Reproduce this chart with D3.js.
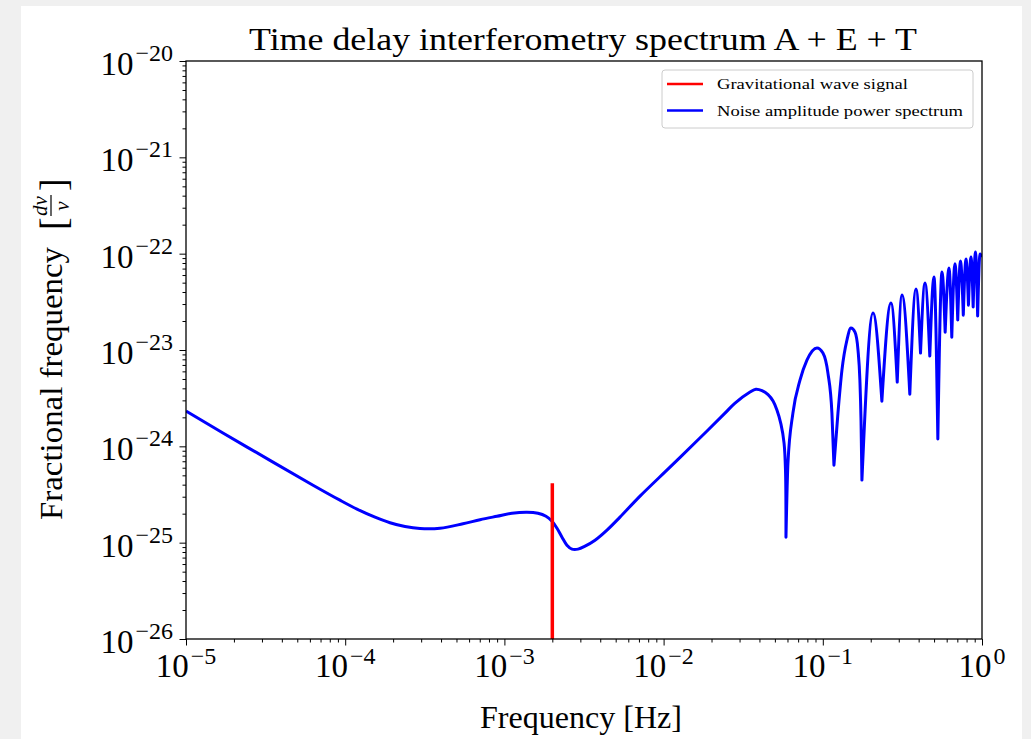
<!DOCTYPE html>
<html>
<head>
<meta charset="utf-8">
<script src="https://cdn.jsdelivr.net/npm/d3@7"></script>
<style>
html, body { margin: 0; padding: 0; background: #f0f0f0; }
svg { display: block; }
text { font-family: 'Liberation Serif', 'DejaVu Serif', serif; fill: #000; }
</style>
</head>
<body>
<script>
// DATA

var xTickValues = [1e-5, 1e-4, 1e-3, 1e-2, 1e-1, 1e0];
var xTickExponents = ['\u22125', '\u22124', '\u22123', '\u22122', '\u22121', '0'];
var yTickValues = [1e-26, 1e-25, 1e-24, 1e-23, 1e-22, 1e-21, 1e-20];
var yTickExponents = ['\u221226', '\u221225', '\u221224', '\u221223', '\u221222', '\u221221', '\u221220'];

var signalFreq = [2e-3, 2e-3];
var signalAmp = [1e-26, 4.15e-25];

var noiseFreq = [
    1.00e-5, 2.42e-5, 6.28e-5, 9.27e-5, 1.186e-4, 1.539e-4, 1.912e-4, 2.375e-4, 2.95e-4, 3.94e-4,
    5.49e-4, 7.03e-4, 8.98e-4, 1.116e-3, 1.386e-3, 1.625e-3, 1.825e-3, 1.991e-3, 2.14e-3, 2.30e-3,
    2.47e-3, 2.66e-3, 2.90e-3, 3.21e-3, 3.71e-3, 4.41e-3, 5.32e-3, 7.11e-3, 1.097e-2, 1.69e-2,
    2.43e-2, 2.81e-2, 3.49e-2, 3.80e-2, 4.15e-2, 4.53e-2, 4.87e-2, 5.15e-2, 5.46e-2, 5.71e-2,
    5.83e-2, 5.87e-2,
    6.04e-2, 6.49e-2, 7.19e-2, 7.95e-2, 9.19e-2, 0.1002, 0.1077, 0.1141, 0.1175,
    0.1245, 0.1319, 0.1418, 0.1502, 0.1593, 0.1664, 0.1710, 0.1738, 0.1761,
    0.2067, 0.235, 0.268, 0.2935, 0.3144, 0.352, 0.3849, 0.411, 0.4385, 0.470,
    0.4994, 0.528, 0.5606, 0.587, 0.6204, 0.646, 0.6766, 0.704, 0.7328, 0.763,
    0.7934, 0.822, 0.853, 0.880, 0.910, 0.939, 0.9715, 1.0
];
var noiseAmp = [
    2.32e-24, 9.82e-25, 3.95e-25, 2.76e-25, 2.23e-25, 1.84e-25, 1.61e-25, 1.47e-25, 1.40e-25, 1.41e-25,
    1.57e-25, 1.73e-25, 1.88e-25, 2.02e-25, 2.07e-25, 2.02e-25, 1.88e-25, 1.67e-25, 1.41e-25, 1.14e-25,
    9.42e-26, 8.57e-26, 8.57e-26, 9.20e-26, 1.06e-25, 1.35e-25, 1.84e-25, 3.04e-25, 6.08e-25, 1.22e-24,
    2.21e-24, 2.81e-24, 3.66e-24, 3.92e-24, 3.79e-24, 3.44e-24, 2.95e-24, 2.38e-24, 1.70e-24, 1.08e-24,
    5.66e-25, 1.14e-25,
    6.70e-25, 2.21e-24, 4.86e-24, 7.85e-24, 1.05e-23, 9.29e-24, 5.75e-24, 2.21e-24, 6.38e-25,
    2.21e-24, 6.18e-24, 1.27e-23, 1.69e-23, 1.53e-23, 9.98e-24, 4.86e-24, 1.87e-24, 4.46e-25,
    2.42e-23, 2.94e-24, 3.07e-23, 4.64e-24, 3.72e-23, 3.48e-24, 4.29e-23, 9.29e-24, 4.95e-23, 8.65e-24,
    5.71e-23, 1.19e-24, 6.44e-23, 1.53e-23, 7.08e-23, 1.36e-23, 7.88e-23, 2.05e-23, 8.37e-23, 2.30e-23,
    8.79e-23, 2.92e-23, 9.22e-23, 2.79e-23, 1.04e-22, 2.25e-23, 9.91e-23, 9.22e-23
];

// frequencies where the noise curve has a sharp notch
var cuspFreq = [5.87e-2, 0.1175, 0.1761, 0.235, 0.2935, 0.352, 0.411, 0.470, 0.528, 0.587,
    0.646, 0.704, 0.763, 0.822, 0.880, 0.939];

var legendLabels = ['Gravitational wave signal', 'Noise amplitude power spectrum'];
var legendColors = ['#ff0000', '#0000ff'];

window.TDI = {
    init: function () {
        var self = this;

        // PROPERTIES
        self.width = 1031;
        self.height = 739;
        self.plot = { left: 186, right: 982, top: 61, bottom: 639 };

        // SVG Setup
        self.svg = d3.select('body').append('svg')
            .attr('width', self.width)
            .attr('height', self.height);

        self.svg.append('rect')
            .attr('x', 21).attr('y', 6)
            .attr('width', 1001).attr('height', self.height)
            .attr('fill', '#ffffff');

        self.x = d3.scaleLog().domain([1e-5, 1]).range([self.plot.left, self.plot.right]);
        self.y = d3.scaleLog().domain([1e-26, 1e-20]).range([self.plot.bottom, self.plot.top]);

        self.svg.append('clipPath').attr('id', 'plot-clip')
            .append('rect')
            .attr('x', self.plot.left).attr('y', self.plot.top)
            .attr('width', self.plot.right - self.plot.left)
            .attr('height', self.plot.bottom - self.plot.top);

        self.drawSeries();
        self.drawAxes();
        self.drawLabels();
        self.drawLegend();
    },
    minorTicks: function (majors) {
        var ticks = [];
        majors.slice(0, -1).forEach(function (m) {
            for (var k = 2; k <= 9; k++) { ticks.push(m * k); }
        });
        return ticks;
    },
    drawAxes: function () {
        var self = this,
            p = self.plot,
            gx, gy;

        gx = self.svg.append('g').attr('transform', 'translate(0,' + p.bottom + ')');
        gx.append('g').call(d3.axisBottom(self.x).tickValues(self.minorTicks(xTickValues))
            .tickSize(3.5).tickSizeOuter(0).tickFormat(''));
        gx.append('g').call(d3.axisBottom(self.x).tickValues(xTickValues)
            .tickSize(6.5).tickSizeOuter(0).tickFormat(''));

        gy = self.svg.append('g').attr('transform', 'translate(' + p.left + ',0)');
        gy.append('g').call(d3.axisLeft(self.y).tickValues(self.minorTicks(yTickValues))
            .tickSize(3.5).tickSizeOuter(0).tickFormat(''));
        gy.append('g').call(d3.axisLeft(self.y).tickValues(yTickValues)
            .tickSize(6.5).tickSizeOuter(0).tickFormat(''));

        self.svg.selectAll('.domain').remove();
        self.svg.selectAll('.tick line').attr('stroke', '#000').attr('stroke-width', 1);

        // frame
        self.svg.append('rect')
            .attr('x', p.left).attr('y', p.top)
            .attr('width', p.right - p.left).attr('height', p.bottom - p.top)
            .attr('fill', 'none').attr('stroke', '#000').attr('stroke-width', 1.3);

        // x tick labels
        xTickValues.forEach(function (v, i) {
            var t = self.svg.append('text')
                .attr('x', self.x(v)).attr('y', p.bottom + 38)
                .attr('text-anchor', 'middle');
            t.append('tspan').attr('font-size', 33).text('10');
            t.append('tspan').attr('font-size', 24).attr('dx', 2).attr('dy', -13).text(xTickExponents[i]);
        });

        // y tick labels
        yTickValues.forEach(function (v, i) {
            var t = self.svg.append('text')
                .attr('x', p.left - 13).attr('y', self.y(v) + 14)
                .attr('text-anchor', 'end');
            t.append('tspan').attr('font-size', 33).text('10');
            t.append('tspan').attr('font-size', 24).attr('dx', 2).attr('dy', -14).text(yTickExponents[i]);
        });
    },
    drawSeries: function () {
        var self = this,
            points, segments, current, d;

        function lineFor(curve) {
            return d3.line()
                .x(function (p) { return self.x(p.f); })
                .y(function (p) { return self.y(p.a); })
                .curve(curve);
        }

        points = noiseFreq.map(function (f, i) { return { f: f, a: noiseAmp[i] }; });
        segments = [];
        current = [];
        points.forEach(function (pt) {
            current.push(pt);
            if (cuspFreq.indexOf(pt.f) !== -1) {
                segments.push(current);
                current = [pt];
            }
        });
        if (current.length > 1) { segments.push(current); }

        // join the arches into one path so the notches get a proper line join
        d = segments.map(function (seg, i) {
            var s = i === 0 ? lineFor(d3.curveCatmullRom.alpha(0.5))(seg) : lineFor(d3.curveMonotoneX)(seg);
            return i === 0 ? s : s.replace(/^M/, 'L');
        }).join('');

        self.svg.append('path')
            .attr('clip-path', 'url(#plot-clip)')
            .attr('d', d)
            .attr('fill', 'none')
            .attr('stroke', legendColors[1])
            .attr('stroke-width', 3)
            .attr('stroke-linejoin', 'round');

        self.svg.append('path')
            .attr('clip-path', 'url(#plot-clip)')
            .attr('d', d3.line()
                .x(function (f) { return self.x(f); })
                .y(function (f, i) { return self.y(signalAmp[i]); })(signalFreq))
            .attr('fill', 'none')
            .attr('stroke', legendColors[0])
            .attr('stroke-width', 3.5);
    },
    drawLabels: function () {
        var self = this,
            g;

        self.svg.append('text')
            .attr('x', 583).attr('y', 50)
            .attr('text-anchor', 'middle')
            .attr('font-size', 31)
            .attr('textLength', 668).attr('lengthAdjust', 'spacingAndGlyphs')
            .text('Time delay interferometry spectrum A + E + T');

        self.svg.append('text')
            .attr('x', 581).attr('y', 728)
            .attr('text-anchor', 'middle')
            .attr('font-size', 32)
            .attr('textLength', 202).attr('lengthAdjust', 'spacingAndGlyphs')
            .text('Frequency [Hz]');

        g = self.svg.append('g').attr('transform', 'translate(62,520) rotate(-90)');
        g.append('text')
            .attr('x', 0).attr('y', 0)
            .attr('font-size', 32)
            .attr('textLength', 273).attr('lengthAdjust', 'spacingAndGlyphs')
            .text('Fractional frequency');
        g.append('text').attr('x', 290).attr('y', 4).attr('font-size', 38).text('[');
        g.append('text').attr('x', 329).attr('y', 4).attr('font-size', 38).text(']');
        g.append('text').attr('x', 314).attr('y', -15).attr('text-anchor', 'middle')
            .attr('font-size', 21).attr('font-style', 'italic').text('d\u03bd');
        g.append('line').attr('x1', 304).attr('x2', 325).attr('y1', -11).attr('y2', -11)
            .attr('stroke', '#000').attr('stroke-width', 1.2);
        g.append('text').attr('x', 314).attr('y', 7).attr('text-anchor', 'middle')
            .attr('font-size', 21).attr('font-style', 'italic').text('\u03bd');
    },
    drawLegend: function () {
        var self = this,
            g, rows;

        g = self.svg.append('g');
        g.append('rect')
            .attr('x', 662).attr('y', 70)
            .attr('width', 311).attr('height', 58)
            .attr('rx', 3)
            .attr('fill', '#ffffff').attr('fill-opacity', 0.8)
            .attr('stroke', '#cccccc').attr('stroke-width', 1);

        rows = g.selectAll('g.row').data(legendLabels).enter().append('g')
            .attr('class', 'row')
            .attr('transform', function (d, i) { return 'translate(0,' + (84 + i * 26.5) + ')'; });

        rows.append('line')
            .attr('x1', 667).attr('x2', 703)
            .attr('stroke', function (d, i) { return legendColors[i]; })
            .attr('stroke-width', 2.5);

        rows.append('text')
            .attr('x', 717).attr('y', 5)
            .attr('font-size', 15)
            .attr('fill', '#222')
            .attr('textLength', function (d, i) { return i === 0 ? 191 : 246; })
            .attr('lengthAdjust', 'spacingAndGlyphs')
            .text(function (d) { return d; });
    }
};

TDI.init();
</script>
</body>
</html>
